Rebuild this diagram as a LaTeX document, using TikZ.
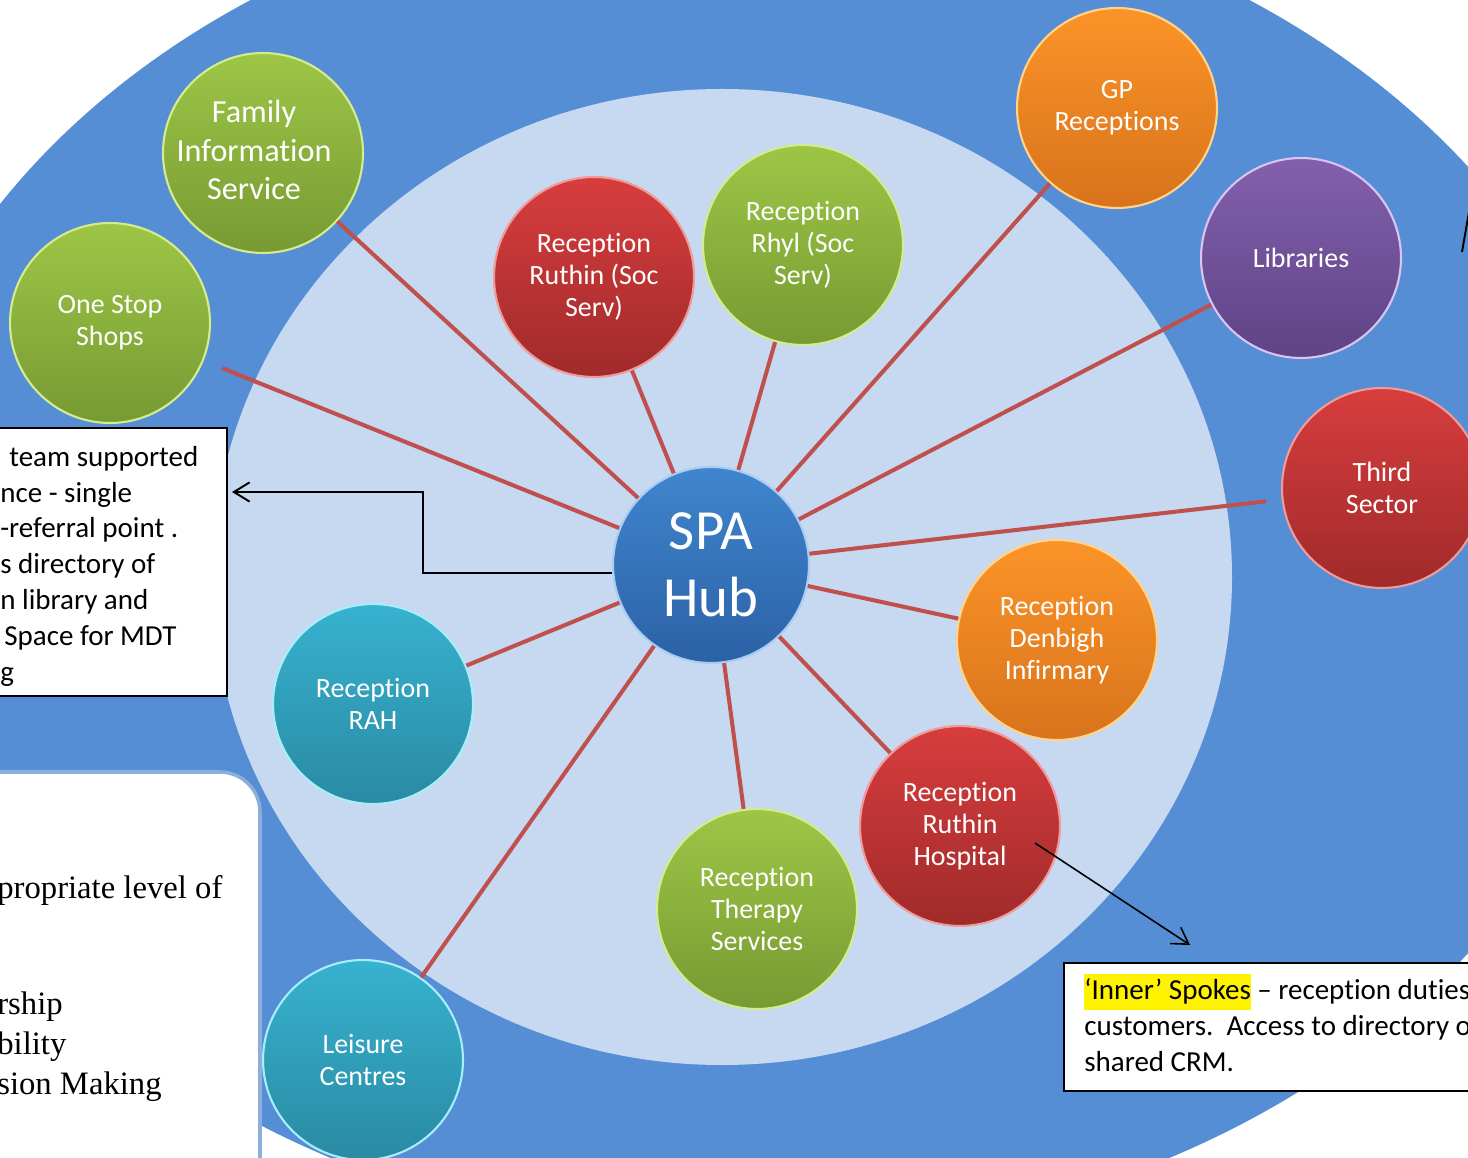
\documentclass[tikz,border=0pt]{standalone}
\usepackage{fontspec}
\setmainfont{Carlito}[Ligatures=NoCommon]
\newfontfamily\notefont{Liberation Serif}
\usetikzlibrary{arrows.meta}

\definecolor{outerblue}{HTML}{558ED5}
\definecolor{innerblue}{HTML}{C6D9F1}
\definecolor{spokered}{HTML}{C0504D}
\definecolor{frameblue}{HTML}{8BAEDB}
\definecolor{greentop}{HTML}{9DC646}
\definecolor{greenbot}{HTML}{779A33}
\definecolor{greenrim}{HTML}{D4EC8E}
\definecolor{redtop}{HTML}{D83D3D}
\definecolor{redbot}{HTML}{A02A2B}
\definecolor{redrim}{HTML}{F09A9A}
\definecolor{orangetop}{HTML}{FB9427}
\definecolor{orangebot}{HTML}{D8731C}
\definecolor{orangerim}{HTML}{FFD48A}
\definecolor{purpletop}{HTML}{8360AD}
\definecolor{purplebot}{HTML}{5E4385}
\definecolor{purplerim}{HTML}{D9C4F2}
\definecolor{tealtop}{HTML}{37B2CF}
\definecolor{tealbot}{HTML}{2A8AA3}
\definecolor{tealrim}{HTML}{A8EEFA}
\definecolor{hubtop}{HTML}{3F86CE}
\definecolor{hubbot}{HTML}{2C61A6}
\definecolor{hubrim}{HTML}{A9CDF2}

\begin{document}
\begin{tikzpicture}[x=0.02cm,y=-0.02cm,>={Straight Barb[length=9pt,width=11pt]},
    ball/.style={circle,minimum size=4cm,inner sep=0pt,align=center,text=white,
        top color=#1top,bottom color=#1bot,draw=#1rim,line width=1.2pt,
        font=\fontsize{15.9}{18.1}\selectfont},
    spoke/.style={draw=spokered,line width=2.3pt},
    pointer/.style={draw=black,line width=1.1pt,->},
    note/.style={draw=black,line width=1.2pt,fill=white},
    notetext/.style={anchor=base west,inner sep=0pt,font=\fontsize{16.5}{20.4}\selectfont},
    serifnote/.style={anchor=base west,inner sep=0pt,font=\notefont\fontsize{18.6}{22}\selectfont}]

    \useasboundingbox (0,0) rectangle (1468,1158);
    \clip (0,0) rectangle (1468,1158);
    \fill[white] (0,0) rectangle (1468,1158);

    % rings
    \fill[outerblue] (750,560) ellipse [x radius=880,y radius=680];
    \fill[innerblue] (722,577) ellipse [x radius=510,y radius=488];

    % hub and spokes
    \node[ball=hub,minimum size=3.92cm,font=\fontsize{32.3}{38}\selectfont] (hub) at (711,565) {SPA\\Hub};

    \node[ball=green] (fis) at (263,153) {};
    \node[align=center,text=white,inner sep=0pt,font=\fontsize{18.3}{22.1}\selectfont] (fislabel) at (254,150) {Family\\Information\\Service};
    \node[ball=green] (oss) at (110,323) {One Stop\\Shops};
    \node[ball=red] (rrs) at (594,277) {Reception\\Ruthin (Soc\\Serv)};
    \node[ball=green] (rrhyl) at (803,245) {Reception\\Rhyl (Soc\\Serv)};
    \node[ball=orange] (gp) at (1117,108) {GP\\Receptions};
    \node[ball=purple] (lib) at (1301,258) {Libraries};
    \node[ball=red] (third) at (1382,488) {Third\\Sector};
    \node[ball=orange] (rdi) at (1057,640) {Reception\\Denbigh\\Infirmary};
    \node[ball=red] (rrh) at (960,826) {Reception\\Ruthin\\Hospital};
    \node[ball=green] (rts) at (757,909) {Reception\\Therapy\\Services};
    \node[ball=teal] (rah) at (373,704) {Reception\\RAH};
    \node[ball=teal] (leis) at (363,1060) {Leisure\\Centres};

    \draw[spoke] (hub) -- (fis);
    \draw[spoke,shorten >=0.4cm] (hub) -- (oss);
    \draw[spoke] (hub) -- (rrs);
    \draw[spoke] (hub) -- (rrhyl);
    \draw[spoke] (hub) -- (gp);
    \draw[spoke] (hub) -- (lib);
    \draw[spoke,shorten >=0.32cm] (hub) -- (third);
    \draw[spoke] (hub) -- (rdi);
    \draw[spoke] (hub) -- (rrh);
    \draw[spoke] (hub) -- (rts);
    \draw[spoke] (hub) -- (rah);
    \draw[spoke] (hub) -- (leis);

    % notes
    \node[note,minimum width=8cm,minimum height=5.36cm,anchor=north east] (teambox) at (228,427) {};
    \foreach \dx/\txt [count=\i] in {9/team supported,0/nce - single,0/-referral point .,0/s directory of,0/n library and,4/Space for MDT,0/g}
        \node[notetext] (team\i) at (\dx,430.5+35.8*\i) {\txt};

    \draw[fill=white,draw=frameblue,line width=2pt,rounded corners=0.8cm] (-60,772) rectangle (260,1240);
    \node[serifnote] (dec1) at (-3,898) {propriate level of};
    \node[serifnote] (dec2) at (-3,1014) {rship};
    \node[serifnote] (dec3) at (-3,1054) {bility};
    \node[serifnote] (dec4) at (-3,1094) {sion Making};

    \node[note,minimum width=9cm,minimum height=2.56cm,anchor=north west] (innerbox) at (1063,962) {};
    \node[notetext] (inner1) at (1084,999)
        {{\setlength{\fboxsep}{0pt}\colorbox{yellow}{\strut ‘Inner’ Spokes}} – reception duties};
    \node[notetext] (inner2) at (1084,1035) {customers.\ \ Access to directory o};
    \node[notetext] (inner3) at (1084,1071) {shared CRM.};

    % pointers
    \coordinate (teamtip) at (232,492);
    \coordinate (innertip) at (1190,945);
    \draw[pointer] ([yshift=-0.16cm]hub.west) -- ++(-189,0) |- (teamtip);
    \draw[pointer,line width=0.9pt] ([shift={(75,17)}]rrh.center) -- (innertip);

    \coordinate (edgea) at (1462,252);
    \coordinate (edgeb) at (1469,212);
    \draw[line width=1.1pt] (edgea) -- (edgeb);
\end{tikzpicture}
\end{document}
